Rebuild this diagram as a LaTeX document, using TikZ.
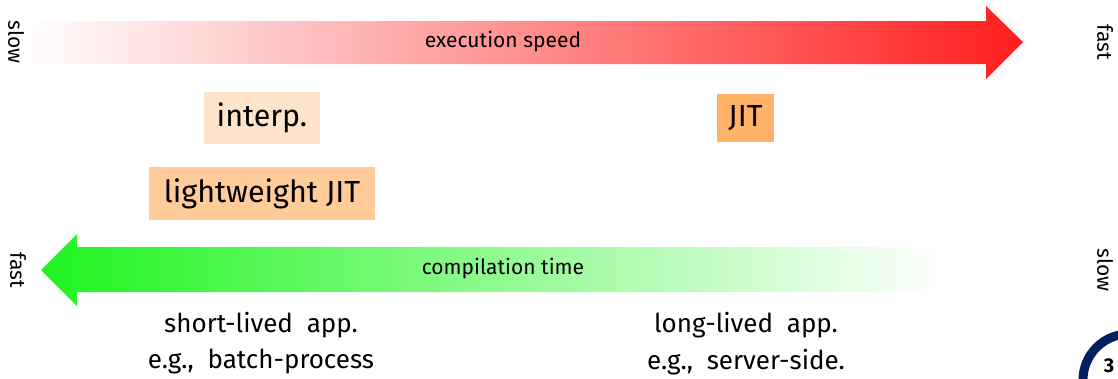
\documentclass[tikz,border=0pt]{standalone}
\usepackage{fontspec}
\setmainfont{Fira Sans}
\definecolor{speedred}{RGB}{255,30,30}
\definecolor{compgreen}{RGB}{30,245,30}
\definecolor{interpfill}{RGB}{255,228,204}
\definecolor{lightjitfill}{RGB}{255,204,153}
\definecolor{jitfill}{RGB}{255,178,102}
\definecolor{navy}{RGB}{0,32,96}
\begin{document}
\begin{tikzpicture}[x=1pt,y=-1pt,
  arrowlabel/.style={font=\fontsize{21}{24}\selectfont, inner sep=0pt},
  sidelabel/.style={font=\fontsize{21}{24}\selectfont, rotate=-90, inner sep=0pt},
  tierbox/.style={font=\fontsize{30.5}{34}\selectfont, inner sep=0pt, anchor=center},
  caption/.style={font=\fontsize{26}{30}\selectfont, inner sep=0pt}]
\useasboundingbox (0,0) rectangle (1118,378);

% execution speed axis: white to red, pointing right
\shade[left color=white, right color=speedred]
  (25,21) -- (986,21) -- (986,6) -- (1023,42) -- (986,79) -- (986,64) -- (25,64) -- cycle;
\node[arrowlabel] (speed) at (503,42) {execution speed};
\node[sidelabel] (slowtop) at (16,42) {slow};
\node[sidelabel] (fasttop) at (1105,42) {fast};

% compilation time axis: green to white, pointing left
\shade[left color=compgreen, right color=white]
  (41,270) -- (77,234) -- (77,247) -- (940,247) -- (940,292) -- (77,292) -- (77,306) -- cycle;
\node[arrowlabel] (comp) at (503,269) {compilation time};
\node[sidelabel] (fastbot) at (18,270) {fast};
\node[sidelabel] (slowbot) at (1105,270) {slow};

% execution tiers
\fill[interpfill] (204,92) rectangle (320,144);
\node[tierbox] (interp) at (262,118) {interp.};
\fill[lightjitfill] (149,167) rectangle (375,220);
\node[tierbox] (lwjit) at (262,193.5) {lightweight JIT};
\fill[jitfill] (717,94) rectangle (774,142);
\node[tierbox] (jit) at (745.5,118) {JIT};

% application kinds
\node[caption] (short) at (261,325) {short-lived\ \ app.};
\node[caption] (batch) at (261,362) {e.g.,\ \ batch-process};
\node[caption] (long) at (746,325) {long-lived\ \ app.};
\node[caption] (server) at (746,362) {e.g.,\ \ server-side.};

% slide number badge
\draw[navy, line width=9pt, fill=white] (1129,380) circle (46);
\node[font=\bfseries\fontsize{20}{24}\selectfont, inner sep=0pt] (page) at (1109,366) {3};
\end{tikzpicture}
\end{document}
